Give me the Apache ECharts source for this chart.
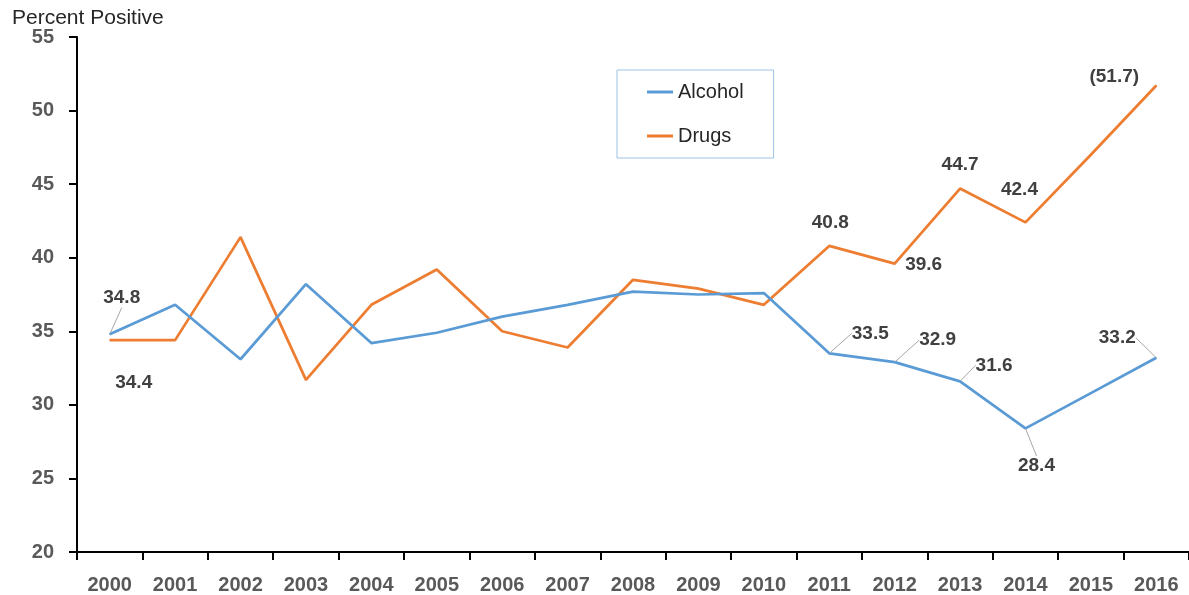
<!DOCTYPE html>
<html>
<head>
<meta charset="utf-8">
<script src="https://cdn.jsdelivr.net/npm/echarts@6/dist/echarts.min.js"></script>
<style>
  html, body { margin: 0; padding: 0; background: #fff; }
  #chart { width: 1189px; height: 595px; }
</style>
</head>
<body>
<div id="chart"></div>
<script>
var years = ['2000', '2001', '2002', '2003', '2004', '2005', '2006', '2007', '2008',
             '2009', '2010', '2011', '2012', '2013', '2014', '2015', '2016'];
var alcohol = [34.8, 36.8, 33.1, 38.2, 34.2, 34.9, 36.0, 36.8, 37.7,
               37.5, 37.6, 33.5, 32.9, 31.6, 28.4, 30.8, 33.2];
var drugs = [34.4, 34.4, 41.4, 31.7, 36.8, 39.2, 35.0, 33.9, 38.5,
             37.9, 36.8, 40.8, 39.6, 44.7, 42.4, 47.0, 51.7];
var yTicks = [20, 25, 30, 35, 40, 45, 50, 55];

// where each shown value label sits, relative to its point (index -> [dx, dy])
var alcoholLabelPos = { 0: [12, -36], 11: [41, -20], 12: [43, -22], 13: [34, -16], 14: [11, 37], 16: [-39, -20] };
var drugsLabelPos = { 0: [24, 43], 11: [1, -23], 12: [29, 1], 13: [0, -24], 14: [-6, -33], 16: [-42, -9] };

var font = 'Liberation Sans, Arial, sans-serif';

function withLabels(vals, pos) {
    return vals.map(function(v, i) {
        if (pos[i]) {
            return { value: v, label: { show: true } };
        }
        return v;
    });
}

var labelStyle = {
    show: false,
    position: 'inside',
    fontFamily: font,
    fontSize: 19,
    fontWeight: 'bold',
    color: '#404040'
};

var myChart = echarts.init(document.getElementById('chart'));
var option = {
    animation: false,
    textStyle: { fontFamily: font },
    title: {
        text: 'Percent Positive',
        left: 7,
        top: 3,
        textStyle: { fontFamily: font, fontSize: 21, fontWeight: 'normal', color: '#262626' }
    },
    legend: {
        orient: 'vertical',
        left: 617,
        top: 70,
        padding: [12, 30, 12, 30],
        borderColor: '#9DC3E6',
        borderWidth: 1,
        itemGap: 24,
        itemWidth: 26,
        itemHeight: 3,
        itemTextGap: 3,
        icon: 'rect',
        textStyle: { fontFamily: font, fontSize: 20, color: '#262626' },
        data: ['Alcohol', 'Drugs']
    },
    grid: {
        left: 77,
        top: 37,
        width: 1115,
        height: 515
    },
    xAxis: {
        type: 'category',
        data: years,
        boundaryGap: true,
        axisLine: { lineStyle: { color: '#000', width: 2 } },
        axisTick: { show: true, length: 8, lineStyle: { color: '#000', width: 2 } },
        axisLabel: {
            interval: 0,
            margin: 23,
            fontFamily: font,
            fontSize: 20,
            fontWeight: 'bold',
            color: '#595959'
        }
    },
    yAxis: {
        type: 'value',
        min: yTicks[0],
        max: yTicks[yTicks.length - 1],
        interval: 5,
        splitLine: { show: false },
        axisLine: { show: true, lineStyle: { color: '#000', width: 2 } },
        axisTick: { show: true, length: 8, lineStyle: { color: '#000', width: 2 } },
        axisLabel: {
            margin: 23,
            fontFamily: font,
            fontSize: 20,
            fontWeight: 'bold',
            color: '#595959'
        }
    },
    series: [{
        name: 'Alcohol',
        type: 'line',
        data: withLabels(alcohol, alcoholLabelPos),
        color: '#5B9BD5',
        lineStyle: { width: 2.75, color: '#5B9BD5' },
        symbol: 'circle',
        symbolSize: 1,
        showSymbol: true,
        label: labelStyle,
        labelLine: { show: true, lineStyle: { color: '#A6A6A6', width: 1 } },
        labelLayout: function(p) {
            var d = alcoholLabelPos[p.dataIndex] || [0, 0];
            return { dx: d[0], dy: d[1] };
        },
        z: 3
    }, {
        name: 'Drugs',
        type: 'line',
        data: withLabels(drugs, drugsLabelPos),
        color: '#ED7D31',
        lineStyle: { width: 2.75, color: '#ED7D31' },
        symbol: 'circle',
        symbolSize: 1,
        showSymbol: true,
        label: Object.assign({}, labelStyle, {
            formatter: function(p) {
                return p.dataIndex === years.length - 1 ? '(' + p.value + ')' : p.value;
            }
        }),
        labelLine: { show: false },
        labelLayout: function(p) {
            var d = drugsLabelPos[p.dataIndex] || [0, 0];
            return { dx: d[0], dy: d[1] };
        },
        z: 2
    }]
};

myChart.setOption(option);
</script>
</body>
</html>
